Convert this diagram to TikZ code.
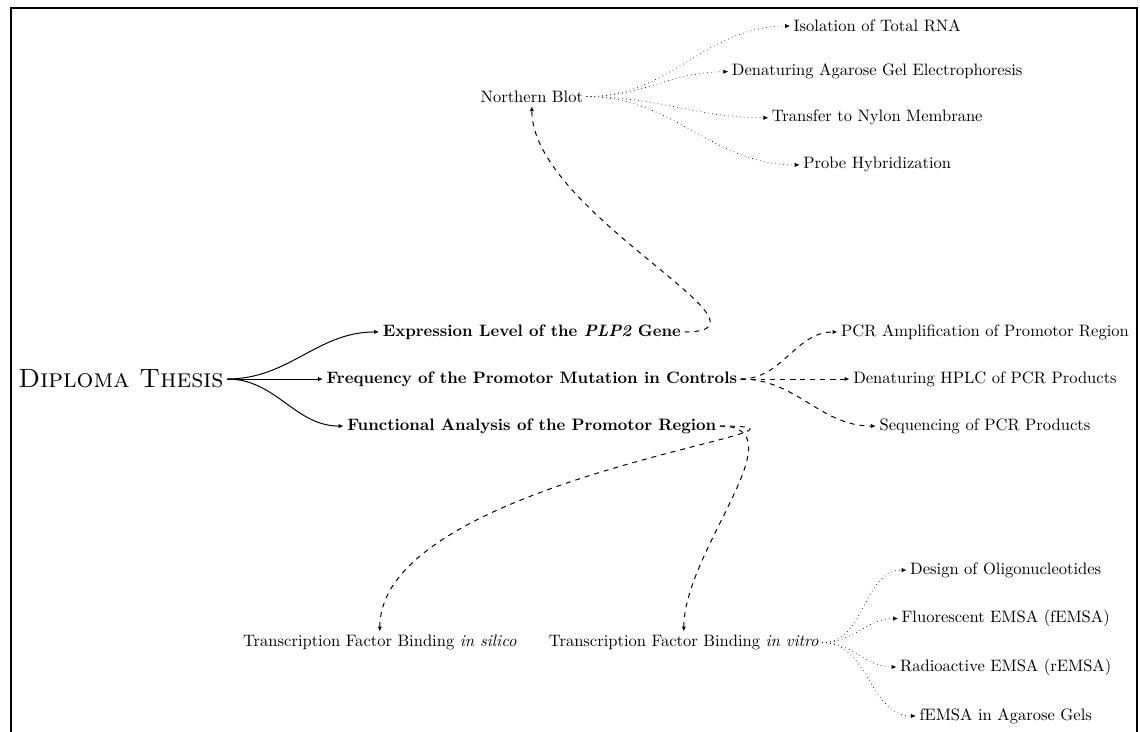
\documentclass[tikz,border=0pt]{standalone}
\usepackage{tikz}
\usetikzlibrary{arrows.meta}

\begin{document}
\begin{tikzpicture}[
  every node/.style={inner sep=2pt},
  rootbox/.style={font=\fontsize{16}{19}\selectfont\scshape},
  topic/.style={font=\bfseries},
  arr/.style={-{Latex[length=3pt,width=2.6pt]}, semithick},
  dasharr/.style={arr, dashed},
  dotarr/.style={-{Latex[length=3pt,width=2.6pt]}, dotted}
]
\useasboundingbox (-2.571,-7.483) rectangle (21.654,8.054);
\draw[very thick] (-2.337,-8) rectangle (21.59,7.884);

\node[rootbox] (thesis) at (0,0) {Diploma Thesis};
\node[topic] (expr) at (8.73,1) {Expression Level of the \textit{PLP2} Gene};
\node[topic] (freq) at (8.73,0) {Frequency of the Promotor Mutation in Controls};
\node[topic] (func) at (8.73,-1) {Functional Analysis of the Promotor Region};

\node (nb) at (8.73,6) {Northern Blot};
\node (iso) at (16.07,7.5) {Isolation of Total RNA};
\node (gel) at (16.07,6.53) {Denaturing Agarose Gel Electrophoresis};
\node (nylon) at (16.07,5.55) {Transfer to Nylon Membrane};
\node (probe) at (16.07,4.55) {Probe Hybridization};

\node (pcr) at (18.36,1) {PCR Amplification of Promotor Region};
\node (hplc) at (18.36,0) {Denaturing HPLC of PCR Products};
\node (seq) at (18.36,-1) {Sequencing of PCR Products};

\node (silico) at (5.50,-5.6) {Transcription Factor Binding \textit{in silico}};
\node (vitro) at (11.96,-5.6) {Transcription Factor Binding \textit{in vitro}};
\node (oligo) at (18.8,-4.06) {Design of Oligonucleotides};
\node (femsa) at (18.8,-5.09) {Fluorescent EMSA (fEMSA)};
\node (remsa) at (18.8,-6.12) {Radioactive EMSA (rEMSA)};
\node (agar) at (18.8,-7.16) {fEMSA in Agarose Gels};

\draw[arr] (thesis.east) to[out=0,in=180] (expr.west);
\draw[arr] (thesis.east) to[out=0,in=180] (freq.west);
\draw[arr] (thesis.east) to[out=0,in=180] (func.west);

\draw[dasharr] (expr.east) to[out=0,in=-90] (nb.south);
\draw[dasharr] (freq.east) to[out=0,in=180] (pcr.west);
\draw[dasharr] (freq.east) to[out=0,in=180] (hplc.west);
\draw[dasharr] (freq.east) to[out=0,in=180] (seq.west);
\draw[dasharr] (func.east) to[out=0,in=90] (silico.north);
\draw[dasharr] (func.east) to[out=0,in=90] (vitro.north);

\draw[dotarr] (nb.east) to[out=0,in=180] (iso.west);
\draw[dotarr] (nb.east) to[out=0,in=180] (gel.west);
\draw[dotarr] (nb.east) to[out=0,in=180] (nylon.west);
\draw[dotarr] (nb.east) to[out=0,in=180] (probe.west);

\draw[dotarr] (vitro.east) to[out=0,in=180] (oligo.west);
\draw[dotarr] (vitro.east) to[out=0,in=180] (femsa.west);
\draw[dotarr] (vitro.east) to[out=0,in=180] (remsa.west);
\draw[dotarr] (vitro.east) to[out=0,in=180] (agar.west);
\end{tikzpicture}
\end{document}
